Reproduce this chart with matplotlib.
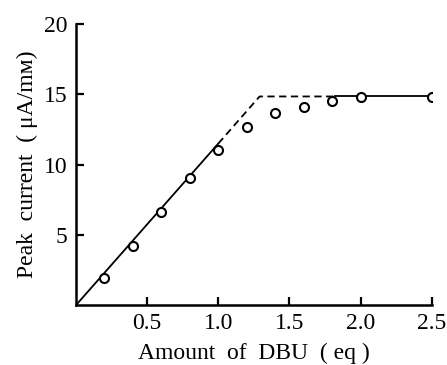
import matplotlib.pyplot as plt

plt.rcParams['font.family'] = ['Liberation Serif', 'DejaVu Serif']

# measured points
dbu = [0.2, 0.4, 0.6, 0.8, 1.0, 1.2, 1.4, 1.6, 1.8, 2.0, 2.5]
current = [1.9, 4.2, 6.65, 9.05, 11.05, 12.65, 13.65, 14.1, 14.5, 14.8, 14.8]

# guide lines (solid / dashed parts)
solid1_x = [0, 1.0]
solid1_y = [0, 11.5]
dash_x = [1.0, 1.29, 1.82]
dash_y = [11.5, 14.85, 14.85]
solid2_x = [1.82, 2.5]
solid2_y = [14.85, 14.85]

xticks = [0.5, 1.0, 1.5, 2.0, 2.5]
yticks = [5, 10, 15, 20]

fig = plt.figure(figsize=(4.47, 3.65), dpi=100)
ax = fig.add_axes([0.170, 0.164, 0.796, 0.770])

ax.plot(solid1_x, solid1_y, color='black', lw=1.3)
ax.plot(dash_x, dash_y, color='black', lw=1.3, dashes=(4, 2.5))
ax.plot(solid2_x, solid2_y, color='black', lw=1.3)
ax.plot(dbu, current, 'o', ms=6.5, mfc='white', mec='black', mew=1.5, zorder=3)

ax.set_xlim(0, 2.5)
ax.set_ylim(0, 20)
ax.set_xticks(xticks)
ax.set_xticklabels(['0.5', '1.0', '1.5', '2.0', '2.5'])
ax.set_yticks(yticks)
ax.tick_params(direction='in', length=6, width=1.6, labelsize=17, pad=6)
for s in ['top', 'right']:
    ax.spines[s].set_visible(False)
for s in ['left', 'bottom']:
    ax.spines[s].set_linewidth(1.8)

ax.set_xlabel('Amount  of  DBU  ( eq )', fontsize=17, labelpad=6)
ax.set_ylabel('Peak  current  ( μA/mм)', fontsize=17, labelpad=4)

plt.savefig('out.png', dpi=100)
